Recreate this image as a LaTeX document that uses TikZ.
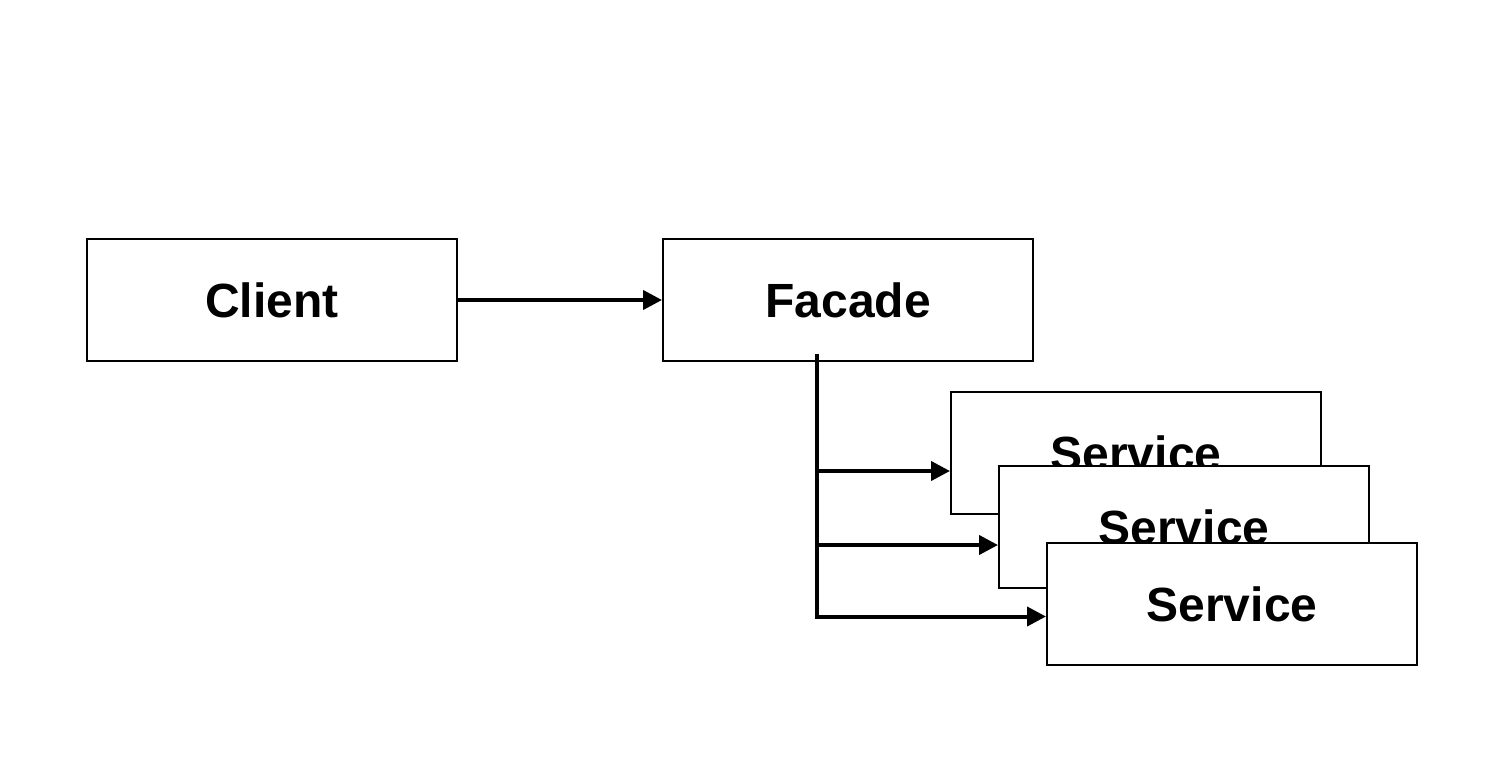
\documentclass[tikz,border=0pt]{standalone}
\usepackage{fontspec}
\setmainfont{Liberation Sans}
\usetikzlibrary{arrows.meta}
\begin{document}
\begin{tikzpicture}[x=1pt,y=-1pt,
  box/.style={draw=black,line width=2pt,fill=white,minimum width=370pt,minimum height=122pt,
    inner sep=0pt,anchor=north west,font=\fontsize{48}{58}\selectfont\bfseries},
  link/.style={draw=black,line width=4pt,-{Triangle[length=19pt,width=19pt]}}]
  \useasboundingbox (0,0) rectangle (1496,760);
  \node[box] (client) at (86,238) {Client};
  \node[box] (facade) at (662,238) {Facade};
  \node[box] (s1) at (950,391) {Service};
  \node[box] (s2) at (998,465) {Service};
  \node[box] (s3) at (1046,542) {Service};
  \draw[link] (client.east) -- (facade.west);
  % fork below the facade, branching to each service
  \coordinate (fork) at (817,354);
  \coordinate (in1) at ([yshift=-18pt]s1.west);
  \coordinate (in2) at ([yshift=-18pt]s2.west);
  \coordinate (in3) at ([yshift=-12.5pt]s3.west);
  \draw[link] (fork) |- (in3);
  \draw[link] (fork |- in1) -- (in1);
  \draw[link] (fork |- in2) -- (in2);
\end{tikzpicture}
\end{document}
